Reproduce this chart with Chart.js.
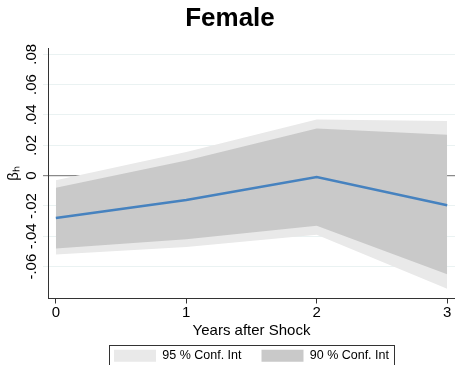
<!DOCTYPE html>
<html>
<head>
<meta charset="utf-8">
<script src="https://cdn.jsdelivr.net/npm/chart.js@4/dist/chart.umd.min.js"></script>
<style>
  html, body { margin: 0; padding: 0; background: #fff; }
  #wrap { width: 455px; height: 365px; }
</style>
</head>
<body>
<div id="wrap"><canvas id="myChart"></canvas></div>
<script>
// years after the shock
var years = [0, 1, 2, 3];
// point estimates
var beta = [-0.028, -0.016, -0.001, -0.0195];
// 90% confidence band
var ci90Upper = [-0.008, 0.010, 0.031, 0.027];
var ci90Lower = [-0.048, -0.042, -0.033, -0.065];
// 95% confidence band
var ci95Upper = [-0.003, 0.0155, 0.037, 0.036];
var ci95Lower = [-0.052, -0.047, -0.039, -0.0745];
// y tick values shown
var yTicks = [-0.06, -0.04, -0.02, 0, 0.02, 0.04, 0.06, 0.08];

function pts(arr) {
  return years.map(function (x, i) { return { x: x, y: arr[i] }; });
}

function fmt(v) {
  if (Math.abs(v) < 1e-9) return "0";
  var s = v.toFixed(2).replace(/0+$/, "");
  return s.replace("0.", ".");
}

var legendBorder = {
  id: "legendBorder",
  afterDraw: function (chart) {
    var boxes = chart.legend.legendHitBoxes;
    if (!boxes || !boxes.length) return;
    var l = Infinity, r = -Infinity, t = Infinity, b = -Infinity;
    boxes.forEach(function (h) {
      l = Math.min(l, h.left); r = Math.max(r, h.left + h.width);
      t = Math.min(t, h.top); b = Math.max(b, h.top + h.height);
    });
    var c = chart.ctx;
    c.save();
    c.strokeStyle = "#333";
    c.lineWidth = 1;
    c.strokeRect(Math.round(l - 5) + 0.5, Math.round(t - 5) + 0.5, Math.round(r - l + 10), Math.round(b - t + 10));
    c.restore();
  }
};

var ctx = document.getElementById("myChart");
var myChart = new Chart(ctx, {
  type: "line",
  data: {
    datasets: [
      {
        label: "95 % Conf. Int",
        data: pts(ci95Upper),
        borderWidth: 0,
        pointRadius: 0,
        backgroundColor: "#e9e9e9",
        fill: "+1",
        order: 5,
      },
      {
        label: "lo95",
        data: pts(ci95Lower),
        borderWidth: 0,
        pointRadius: 0,
        fill: false,
        order: 4,
      },
      {
        label: "90 % Conf. Int",
        data: pts(ci90Upper),
        borderWidth: 0,
        pointRadius: 0,
        backgroundColor: "#c9c9c9",
        fill: "+1",
        order: 3,
      },
      {
        label: "lo90",
        data: pts(ci90Lower),
        borderWidth: 0,
        pointRadius: 0,
        fill: false,
        order: 2,
      },
      {
        label: "beta",
        data: pts(beta),
        borderColor: "#4682bf",
        borderWidth: 2.5,
        pointRadius: 0,
        fill: false,
        order: 1,
      },
    ],
  },
  options: {
    responsive: true,
    maintainAspectRatio: false,
    animation: false,
    layout: { padding: { left: 5, right: 0, top: 3, bottom: -7 } },
    plugins: {
      title: {
        display: true,
        text: "Female",
        color: "#000",
        font: { family: "Liberation Sans", size: 26, weight: "bold" },
        padding: { top: 0, bottom: 14 },
      },
      legend: {
        position: "bottom",
        fullSize: false,
        labels: {
          color: "#000",
          font: { family: "Liberation Sans", size: 12.5 },
          boxWidth: 42,
          boxHeight: 12,
          padding: 20,
          filter: function (item) { return item.text.indexOf("Conf") >= 0; },
          generateLabels: function (chart) {
            return chart.data.datasets.map(function (ds, i) {
              return {
                text: ds.label,
                fillStyle: ds.backgroundColor,
                strokeStyle: ds.backgroundColor,
                lineWidth: 0,
                datasetIndex: i,
              };
            });
          },
        },
      },
      tooltip: { enabled: false },
    },
    scales: {
      x: {
        type: "linear",
        min: -0.06,
        max: 3.06,
        afterBuildTicks: function (axis) {
          axis.ticks = years.map(function (v) { return { value: v }; });
        },
        grid: { drawOnChartArea: false, drawTicks: true, tickLength: 5, color: "#333" },
        border: { color: "#333", width: 1 },
        ticks: {
          color: "#000",
          font: { family: "Liberation Sans", size: 15 },
          padding: 0,
          maxRotation: 0,
        },
        title: {
          display: true,
          text: "Years after Shock",
          color: "#000",
          font: { family: "Liberation Sans", size: 15 },
          padding: { top: 0, bottom: -10 },
        },
      },
      y: {
        min: -0.081,
        max: 0.084,
        afterBuildTicks: function (axis) {
          axis.ticks = yTicks.map(function (v) { return { value: v }; });
        },
        grid: {
          tickLength: 5,
          color: function (c) {
            if (c.tick && Math.abs(c.tick.value) < 1e-9) return "#8a8a8a";
            return "#eaf2f2";
          },
          lineWidth: function (c) {
            if (c.tick && Math.abs(c.tick.value) < 1e-9) return 1.2;
            return 1;
          },
        },
        border: { color: "#333", width: 1 },
        ticks: {
          color: "#000",
          font: { family: "Liberation Sans", size: 15 },
          minRotation: 90,
          maxRotation: 90,
          crossAlign: "center",
          padding: -2,
          callback: function (v) { return fmt(v); },
        },
        title: {
          display: true,
          text: "βₕ",
          color: "#000",
          font: { family: "Liberation Sans", size: 15 },
          padding: { top: 0, bottom: 6 },
        },
      },
    },
  },
  plugins: [legendBorder],
});
</script>
</body>
</html>
